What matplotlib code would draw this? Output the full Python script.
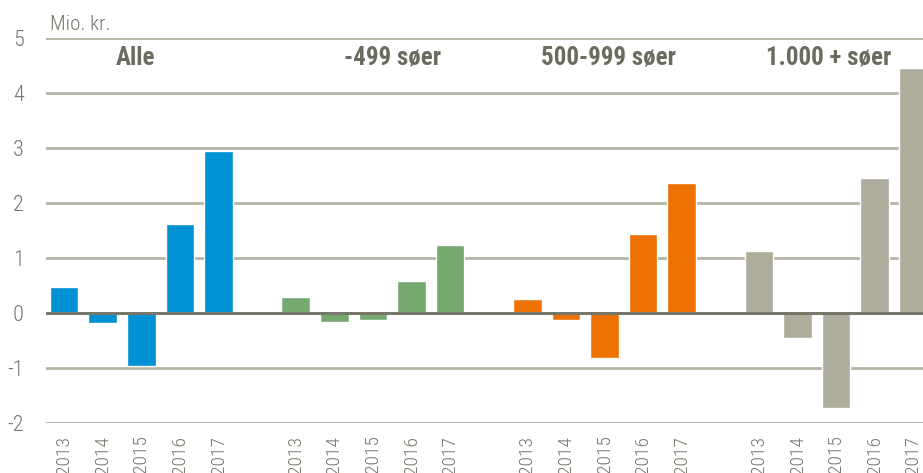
import matplotlib
matplotlib.use("Agg")
import matplotlib.pyplot as plt
from matplotlib import font_manager

years = ["2013", "2014", "2015", "2016", "2017"]
groups = ["Alle", "-499 søer", "500-999 søer", "1.000 + søer"]
alle = [0.48, -0.19, -0.96, 1.61, 2.95]
s499 = [0.30, -0.16, -0.12, 0.59, 1.24]
s999 = [0.26, -0.13, -0.82, 1.43, 2.37]
s1000 = [1.13, -0.45, -1.72, 2.45, 4.45]
series = [alle, s499, s999, s1000]
colors = ["#0090d4", "#76a96f", "#ee7203", "#aeac9c"]
yticks = [-2, -1, 0, 1, 2, 3, 4, 5]

names = {f.name for f in font_manager.fontManager.ttflist}
fam = next((n for n in ["Liberation Sans Narrow", "Roboto Condensed", "Archivo Narrow",
                        "PT Sans Narrow", "Liberation Sans"] if n in names), "DejaVu Sans")
plt.rcParams["font.family"] = [fam, "DejaVu Sans"]

fig = plt.figure(figsize=(9.23, 4.73), dpi=100)
ax = fig.add_axes([46/923, 50/473, 1 - 46/923, 385/473])

grid_c = "#b5b3a4"
for y in yticks:
    if y != 0:
        ax.axhline(y, color=grid_c, lw=2.0, zorder=1)

xpos_all = []
labels_all = []
label_x = [1.84, 8.5, 14.1, 19.8]
for gi, (vals, col) in enumerate(zip(series, colors)):
    xs = [gi * 6 + i for i in range(len(vals))]
    ax.bar(xs, vals, width=0.74, color=col, edgecolor="white", linewidth=1.0, zorder=2)
    xpos_all += xs
    labels_all += years
    ax.text(label_x[gi], 4.64, groups[gi], ha="center", va="center",
            fontsize=18, fontweight="semibold", color="#6c6c5e", zorder=3)

ax.axhline(0, color="#77776a", lw=2.2, zorder=3)

ax.set_xlim(-0.47, 22.25)
ax.set_ylim(-2, 5)
ax.set_yticks(yticks)
ax.set_yticklabels([str(v) for v in yticks], fontsize=16, color="#76766a", fontweight="light")
ax.set_xticks(xpos_all)
ax.set_xticklabels(labels_all, rotation=90, fontsize=14, color="#76766a", va="top",
                   fontweight="light")
ax.tick_params(axis="both", length=0)
ax.tick_params(axis="y", pad=16)
ax.tick_params(axis="x", pad=9)
for s in ax.spines.values():
    s.set_visible(False)

fig.text(50/923, 1 - 25/473, "Mio. kr.", fontsize=15, color="#76766a", ha="left", va="center",
         fontweight="light")

fig.savefig("out.png", dpi=100)
